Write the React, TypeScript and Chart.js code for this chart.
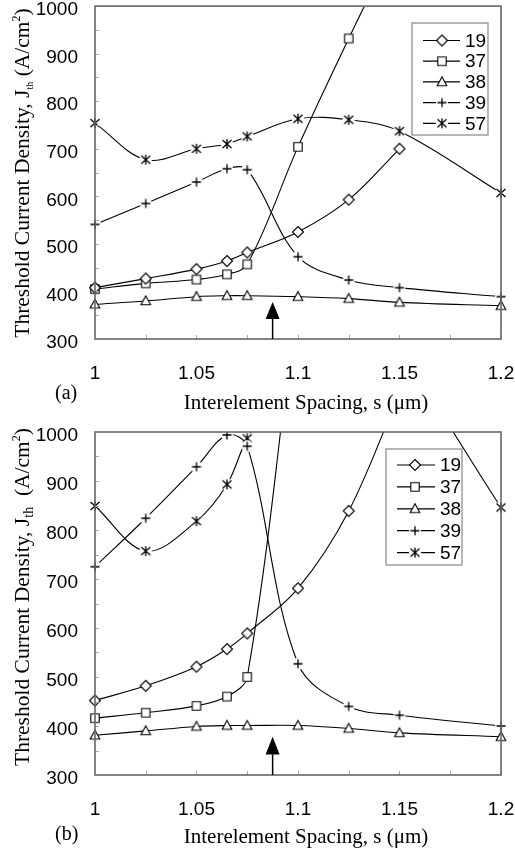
import React, { useEffect, useRef } from 'react';
import { Chart, registerables } from 'chart.js';

Chart.register(...registerables);

// ---------- data ----------
const SPACING = [1, 1.025, 1.05, 1.065, 1.075, 1.1, 1.125, 1.15, 1.2];
const SERIES_NAMES = ['19', '37', '38', '39', '57'];
const X_TICKS = [1, 1.05, 1.1, 1.15, 1.2];
const Y_TICKS = [300, 400, 500, 600, 700, 800, 900, 1000];

// panel (a)
const A_19 = [408, 427, 447, 464, 482, 525, 593, 700, null];
const A_37 = [405, 417, 425, 436, 457, 704, 932, 1150, null];
const A_38 = [373, 380, 389, 391, 391, 389, 385, 377, 370];
const A_39 = [541, 585, 630, 658, 656, 473, 424, 408, 389];
const A_57 = [754, 677, 700, 710, 726, 763, 761, 737, 607];

// panel (b)
const B_19 = [452, 482, 521, 557, 589, 681, 839, 1080, null];
const B_37 = [416, 427, 441, 460, 500, 1300, null, null, null];
const B_38 = [381, 390, 399, 401, 401, 401, 395, 386, 378];
const B_39 = [725, 824, 929, 994, 971, 527, 440, 422, 400];
const B_57 = [849, 757, 818, 893, 987, 1150, 1250, 1160, 846];

const ARROW_X = 1.0875;
const ARROW_TIP = 378;
const ARROW_BASE = 342;

const SANS = '"Liberation Sans", Arial, Helvetica, sans-serif';
const SERIF = '"Liberation Serif", "Times New Roman", Times, serif';

type Marker = 'diamond' | 'square' | 'triangle' | 'plus' | 'star';
const MARKERS: Marker[] = ['diamond', 'square', 'triangle', 'plus', 'star'];

function makeMarker(kind: Marker): HTMLCanvasElement {
  const c = document.createElement('canvas');
  c.width = 16;
  c.height = 16;
  const g = c.getContext('2d')!;
  g.strokeStyle = '#000';
  g.fillStyle = '#fff';
  g.lineWidth = 1.1;
  const cx = 8, cy = 8;
  if (kind === 'diamond') {
    g.beginPath();
    g.moveTo(cx, cy - 5.5);
    g.lineTo(cx + 5.5, cy);
    g.lineTo(cx, cy + 5.5);
    g.lineTo(cx - 5.5, cy);
    g.closePath();
    g.fill();
    g.stroke();
  } else if (kind === 'square') {
    g.beginPath();
    g.rect(cx - 4.2, cy - 4.2, 8.4, 8.4);
    g.fill();
    g.stroke();
  } else if (kind === 'triangle') {
    g.beginPath();
    g.moveTo(cx, cy - 5);
    g.lineTo(cx + 4.8, cy + 3.8);
    g.lineTo(cx - 4.8, cy + 3.8);
    g.closePath();
    g.fill();
    g.stroke();
  } else if (kind === 'plus') {
    g.beginPath();
    g.arc(cx, cy, 6, 0, Math.PI * 2);
    g.fill();
    g.lineWidth = 1.3;
    g.beginPath();
    g.moveTo(cx, cy - 4.5);
    g.lineTo(cx, cy + 4.5);
    g.moveTo(cx - 4.5, cy);
    g.lineTo(cx + 4.5, cy);
    g.stroke();
  } else {
    g.beginPath();
    g.arc(cx, cy, 6.2, 0, Math.PI * 2);
    g.fill();
    g.lineWidth = 1.3;
    g.beginPath();
    g.moveTo(cx, cy - 5);
    g.lineTo(cx, cy + 5);
    g.moveTo(cx - 4.5, cy - 4);
    g.lineTo(cx + 4.5, cy + 4);
    g.moveTo(cx - 4.5, cy + 4);
    g.lineTo(cx + 4.5, cy - 4);
    g.stroke();
  }
  return c;
}

interface PanelGeom {
  label: string;
  canvasTop: number;
  height: number;
  padTop: number;
  xAxisHeight: number;
  legend: { x: number; y: number; w: number; h: number; row0: number; gap: number; l0: number; l1: number; mx: number; tx: number };
  yTitleCenter: number;
  subSize: number;
  gapAfterJ: string;
  xTitleBaseline: number;
  labelBaseline: number;
}

const GEOM_A: PanelGeom = {
  label: '(a)',
  canvasTop: 0,
  height: 420,
  padTop: 5,
  xAxisHeight: 81,
  legend: { x: 412, y: 23, w: 76, h: 112, row0: 40.5, gap: 20.7, l0: 423, l1: 460, mx: 442, tx: 465 },
  yTitleCenter: 173,
  subSize: 10,
  gapAfterJ: ' ',
  xTitleBaseline: 409,
  labelBaseline: 399,
};

const GEOM_B: PanelGeom = {
  label: '(b)',
  canvasTop: 420,
  height: 434,
  padTop: 12,
  xAxisHeight: 79,
  legend: { x: 386, y: 29, w: 76, h: 116, row0: 45, gap: 21.9, l0: 397, l1: 435, mx: 415, tx: 440 },
  yTitleCenter: 177,
  subSize: 14,
  gapAfterJ: '  ',
  xTitleBaseline: 423,
  labelBaseline: 420,
};

function buildDatasets(values: (number | null)[][], markers: HTMLCanvasElement[]) {
  return values.map((vals, i) => ({
    label: SERIES_NAMES[i],
    data: SPACING.map((x, k) => ({ x, y: vals[k] })).filter((p) => p.y !== null),
    borderColor: '#000',
    borderWidth: 1.1,
    tension: 0.35,
    fill: false,
    clip: { left: 10, right: 10, top: 0, bottom: 10 },
    pointStyle: markers[i],
    pointRadius: 5,
    pointHoverRadius: 5,
  }));
}

function decoPlugin(geom: PanelGeom, markers: HTMLCanvasElement[]) {
  return {
    id: 'deco',
    afterDraw(chart: any) {
      const ctx: CanvasRenderingContext2D = chart.ctx;
      const { left, right, top, bottom } = chart.chartArea;
      const xs = chart.scales.x;
      const ys = chart.scales.y;
      ctx.save();

      // minor tick marks inside the frame
      ctx.strokeStyle = '#aaa';
      ctx.lineWidth = 1;
      ctx.beginPath();
      for (let v = 1.025; v < 1.2; v += 0.025) {
        const px = Math.round(xs.getPixelForValue(v)) + 0.5;
        ctx.moveTo(px, bottom);
        ctx.lineTo(px, bottom - 4);
      }
      for (let v = 350; v < 1000; v += 50) {
        const py = Math.round(ys.getPixelForValue(v)) + 0.5;
        ctx.moveTo(left, py);
        ctx.lineTo(left + 4, py);
      }
      ctx.stroke();

      // frame
      ctx.strokeStyle = '#666';
      ctx.lineWidth = 1.6;
      ctx.strokeRect(left, top, right - left, bottom - top);

      // arrow
      const ax = xs.getPixelForValue(ARROW_X);
      const tipY = ys.getPixelForValue(ARROW_TIP);
      const baseY = ys.getPixelForValue(ARROW_BASE);
      ctx.strokeStyle = '#000';
      ctx.fillStyle = '#000';
      ctx.lineWidth = 1.5;
      ctx.beginPath();
      ctx.moveTo(ax, bottom);
      ctx.lineTo(ax, baseY);
      ctx.stroke();
      ctx.beginPath();
      ctx.moveTo(ax, tipY);
      ctx.lineTo(ax + 7, baseY);
      ctx.lineTo(ax - 7, baseY);
      ctx.closePath();
      ctx.fill();

      // legend
      const L = geom.legend;
      ctx.fillStyle = '#fff';
      ctx.fillRect(L.x, L.y, L.w, L.h);
      ctx.strokeStyle = '#888';
      ctx.lineWidth = 1.2;
      ctx.strokeRect(L.x, L.y, L.w, L.h);
      ctx.font = `19px ${SANS}`;
      ctx.textBaseline = 'middle';
      ctx.textAlign = 'left';
      SERIES_NAMES.forEach((name, i) => {
        const ry = L.row0 + i * L.gap;
        ctx.strokeStyle = '#000';
        ctx.lineWidth = 1.2;
        ctx.beginPath();
        ctx.moveTo(L.l0, ry);
        ctx.lineTo(L.l1, ry);
        ctx.stroke();
        const m = markers[i];
        ctx.drawImage(m, L.mx - m.width / 2, ry - m.height / 2);
        ctx.fillStyle = '#000';
        ctx.fillText(name, L.tx, ry + 1);
      });

      // y title (rich text, rotated)
      const parts = [
        { t: 'Threshold Current Density, J', s: 21.5, dy: 0 },
        { t: 'th', s: geom.subSize, dy: 4 },
        { t: geom.gapAfterJ + '(A/cm', s: 21.5, dy: 0 },
        { t: '2', s: 12, dy: -9 },
        { t: ')', s: 21.5, dy: 0 },
      ];
      let total = 0;
      const widths = parts.map((p) => {
        ctx.font = `${p.s}px ${SERIF}`;
        const w = ctx.measureText(p.t).width;
        total += w;
        return w;
      });
      ctx.save();
      ctx.translate(29, geom.yTitleCenter);
      ctx.rotate(-Math.PI / 2);
      ctx.textBaseline = 'alphabetic';
      ctx.textAlign = 'left';
      ctx.fillStyle = '#000';
      let cx = -total / 2;
      parts.forEach((p, i) => {
        ctx.font = `${p.s}px ${SERIF}`;
        ctx.fillText(p.t, cx, p.dy);
        cx += widths[i];
      });
      ctx.restore();

      // x title
      ctx.font = `21px ${SERIF}`;
      ctx.textAlign = 'center';
      ctx.textBaseline = 'alphabetic';
      ctx.fillStyle = '#000';
      ctx.fillText('Interelement Spacing, s (\u03bcm)', 306, geom.xTitleBaseline);

      // panel label
      ctx.font = `20px ${SERIF}`;
      ctx.textAlign = 'left';
      ctx.fillText(geom.label, 55, geom.labelBaseline);

      ctx.restore();
    },
  };
}

function Panel({ geom, values }: { geom: PanelGeom; values: (number | null)[][] }) {
  const ref = useRef<HTMLCanvasElement | null>(null);
  useEffect(() => {
    const canvas = ref.current!;
    const markers = MARKERS.map(makeMarker);
    const chart = new Chart(canvas, {
      type: 'line',
      data: { datasets: buildDatasets(values, markers) as any },
      options: {
        animation: false,
        responsive: false,
        maintainAspectRatio: false,
        devicePixelRatio: 1,
        layout: { padding: { top: geom.padTop, right: 14, left: 0, bottom: 0 } },
        plugins: { legend: { display: false }, tooltip: { enabled: false } },
        elements: { line: { capBezierPoints: false } as any },
        scales: {
          x: {
            type: 'linear',
            min: X_TICKS[0],
            max: X_TICKS[X_TICKS.length - 1],
            grid: { display: false, drawTicks: false },
            border: { display: false },
            ticks: {
              stepSize: 0.05,
              padding: 23,
              maxRotation: 0,
              autoSkip: false,
              color: '#000',
              font: { family: SANS, size: 19 },
              callback: (v: any) => {
                const n = Number(v);
                const hit = X_TICKS.find((t) => Math.abs(t - n) < 1e-6);
                return hit === undefined ? '' : String(hit);
              },
            },
            afterFit: (s: any) => {
              s.height = geom.xAxisHeight;
              s.paddingLeft = 0;
              s.paddingRight = 0;
            },
          },
          y: {
            type: 'linear',
            min: Y_TICKS[0],
            max: Y_TICKS[Y_TICKS.length - 1],
            grid: { display: false, drawTicks: false },
            border: { display: false },
            ticks: {
              stepSize: 100,
              padding: 17,
              labelOffset: 4,
              color: '#000',
              font: { family: SANS, size: 19 },
              callback: (v: any) => {
                const n = Number(v);
                const hit = Y_TICKS.find((t) => Math.abs(t - n) < 1e-6);
                return hit === undefined ? '' : String(hit);
              },
            },
            afterFit: (s: any) => {
              s.width = 95;
              s.paddingTop = 0;
              s.paddingBottom = 0;
            },
          },
        },
      },
      plugins: [decoPlugin(geom, markers)],
    } as any);
    return () => chart.destroy();
  }, [geom, values]);
  return (
    <canvas
      ref={ref}
      width={515}
      height={geom.height}
      style={{ position: 'absolute', left: 0, top: geom.canvasTop, width: 515, height: geom.height }}
    />
  );
}

const VALUES_A = [A_19, A_37, A_38, A_39, A_57];
const VALUES_B = [B_19, B_37, B_38, B_39, B_57];

export default function App() {
  return (
    <div style={{ position: 'absolute', left: 0, top: 0, width: 515, height: 854, background: '#fff' }}>
      <Panel geom={GEOM_A} values={VALUES_A} />
      <Panel geom={GEOM_B} values={VALUES_B} />
    </div>
  );
}
